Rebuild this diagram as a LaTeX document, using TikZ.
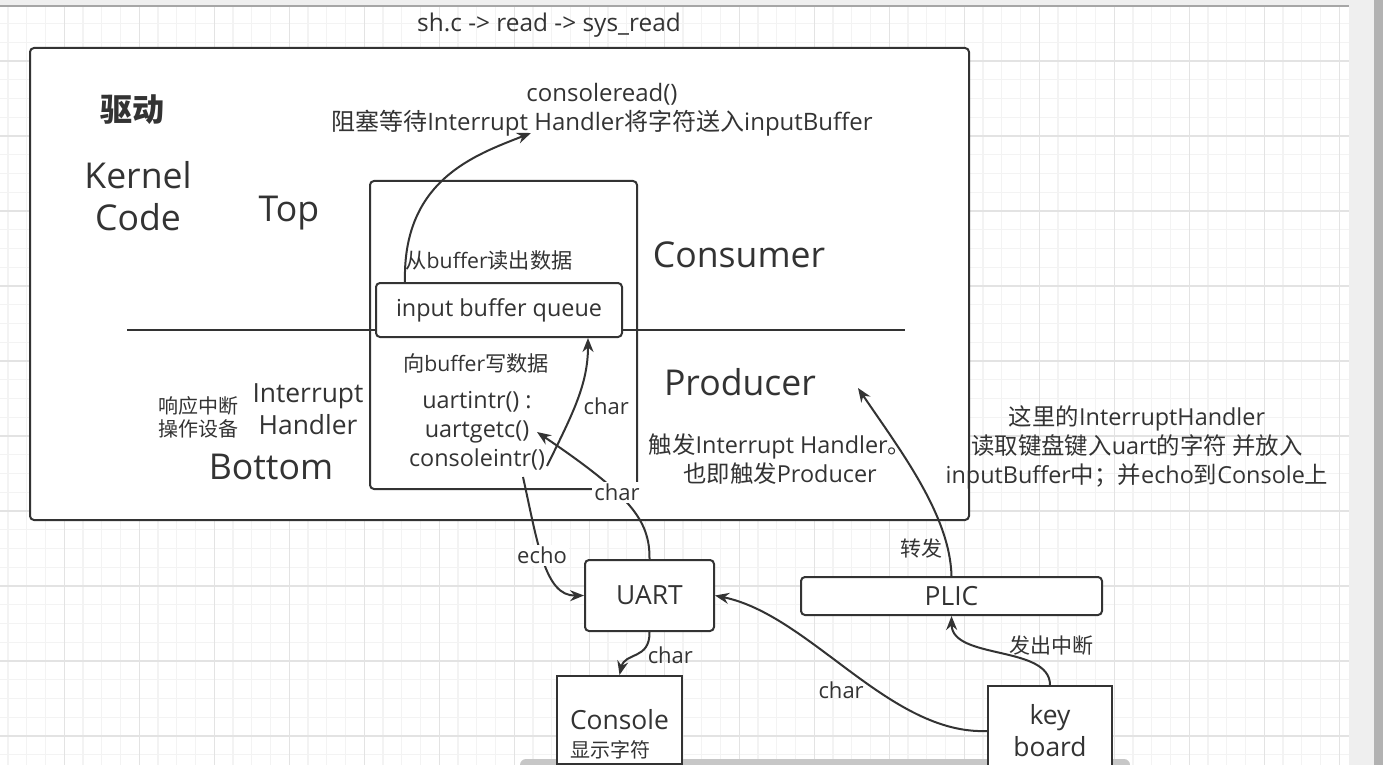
\documentclass[tikz,border=0pt]{standalone}
\usepackage{fontspec}
\setmainfont{Open Sans}
\newfontfamily\cjk{Noto Sans CJK SC}
\usetikzlibrary{arrows.meta,positioning,calc}
\definecolor{ink}{HTML}{333333}
\definecolor{gridminor}{HTML}{F3F3F3}
\definecolor{gridmajor}{HTML}{E3E3E3}
\definecolor{chrome}{HTML}{EFEFEF}

\begin{document}
\begin{tikzpicture}[x=0.5pt,y=-0.5pt,
  box/.style={draw=ink,line width=1pt,rounded corners=2pt,fill=white,inner sep=0pt},
  sqbox/.style={draw=ink,line width=1pt,fill=white,inner sep=0pt},
  txt/.style={text=ink,align=center,inner sep=0pt},
  huge/.style={txt,font=\fontsize{17.8}{21}\selectfont},
  mid/.style={txt,font=\fontsize{13.2}{16}\selectfont},
  norm/.style={txt,font=\fontsize{11.7}{14.5}\selectfont},
  small/.style={txt,font=\fontsize{10.6}{11.5}\selectfont},
  cjksmall/.style={txt,font=\cjk\fontsize{10}{11.5}\selectfont},
  lbl/.style={txt,fill=white,inner sep=1pt,font=\fontsize{11}{12}\selectfont},
  cjklbl/.style={txt,inner sep=1pt,font=\cjk\fontsize{10.5}{12}\selectfont},
  arr/.style={draw=ink,line width=1pt,-{Stealth[length=7pt,width=5.5pt]}},
]
  \useasboundingbox (0,0) rectangle (1383,765);
  \clip (0,0) rectangle (1383,765);
  % Canvas
  \fill[white] (0,0) rectangle (1383,765);
  \foreach \k in {-3,...,68} \draw[gridminor,line width=0.6pt] ({64.3+18.75*\k},6) -- ({64.3+18.75*\k},765);
  \foreach \k in {-2,...,37} \draw[gridminor,line width=0.6pt] (0,{61+18.75*\k}) -- (1349,{61+18.75*\k});
  \foreach \k in {0,...,17} \draw[gridmajor,line width=0.6pt] ({64.3+75*\k},6) -- ({64.3+75*\k},765);
  \foreach \k in {0,...,9} \draw[gridmajor,line width=0.6pt] (0,{61+75*\k}) -- (1349,{61+75*\k});
  \fill[chrome] (0,0) rectangle (1383,6);
  \draw[black!35,line width=0.6pt] (0,6) -- (1349,6);
  \fill[chrome] (1349,6) rectangle (1383,765);
  \fill[black!30] (1374,0) rectangle (1383,765);
  \fill[black!22,rounded corners=3pt] (520,759) rectangle (1130,772);

  % Kernel
  \node[box,minimum width=469.5pt,minimum height=236pt] (kernel) at (499.5,284) {};
  \node[box,minimum width=133.5pt,minimum height=154pt] (driver) at (503.5,335) {};
  \coordinate (divl) at (127,330);
  \coordinate (divr) at (905,330);
  \draw[ink,line width=1pt] (divl) -- (divr);
  \node[box,norm,minimum width=123pt,minimum height=27pt] (queue) at (499,310) {input buffer queue};

  % Texts
  \node[norm,font=\fontsize{12.2}{14.5}\selectfont] (syscall) at (549,25) {sh.c -> read -> sys\_read};
  \node[norm,font=\fontsize{12}{14.5}\selectfont] (cread) at (602,110) {consoleread()\\{\cjk 阻塞等待}Interrupt Handler{\cjk 将字符送入}inputBuffer};
  \node[txt,font=\cjk\bfseries\fontsize{16}{20}\selectfont] (qudong) at (132,110) {驱动};
  \node[huge] (kcode) at (138,196) {Kernel\\Code};
  \node[huge] (top) at (289,213) {Top};
  \node[huge] (consumer) at (739,255) {Consumer};
  \node[huge] (producer) at (740,382) {Producer};
  \node[huge] (bottom) at (271,467) {Bottom};
  \node[mid] (ihandler) at (308,409) {Interrupt\\Handler};
  \node[cjksmall] (respond) at (198,417) {响应中断\\操作设备};
  \node[small] (readbuf) at (489,260) {{\cjk 从}buffer{\cjk 读出数据}};
  \node[small] (writebuf) at (476,363) {{\cjk 向}buffer{\cjk 写数据}};
  \node[norm] (intr) at (477,431) {uartintr() :\\uartgetc()\\consoleintr()};
  \node[norm] (trigger) at (780,459) {{\cjk 触发}Interrupt Handler{\cjk 。}\\{\cjk 也即触发}Producer};
  \node[norm] (note) at (1137,447) {{\cjk 这里的}InterruptHandler\\{\cjk 读取键盘键入}uart{\cjk 的字符 并放入}\\inputBuffer{\cjk 中；并}echo{\cjk 到}Console{\cjk 上}};

  % Devices
  \node[box,mid,minimum width=64.5pt,minimum height=35.5pt] (uart) at (649.5,595.5) {UART};
  \node[box,mid,minimum width=150.5pt,minimum height=19pt] (plic) at (951.5,596) {PLIC};
  \node[sqbox,mid,minimum width=62.5pt,minimum height=44pt] (console) at (619.5,720) {Console};
  \node[cjksmall] (show) at (610,750) {显示字符};
  \node[sqbox,mid,minimum width=62pt,minimum height=45pt] (kbd) at (1050,731) {key\\board};

  % Arrows
  \coordinate (qstart) at (405,283);
  \coordinate (readtip) at (531,133);
  \coordinate (ciout) at (547,466);
  \coordinate (qin) at (588,338);
  \coordinate (getc) at (537,432);
  \coordinate (echostart) at (523,477);
  \coordinate (prodtip) at (858,388);
  \draw[arr] (qstart) .. controls (402,180) and (475,155) .. (readtip);
  \draw[arr] (ciout) .. controls (572,415) and (588,385) .. (qin) node[lbl,fill=none,pos=0.45,right=3pt] (c1) {char};
  \draw[arr] (uart.north) .. controls (650,520) and (630,495) .. (getc) node[lbl,pos=0.6] (c2) {char};
  \draw[arr] (echostart) .. controls (538,545) and (545,596) .. (uart.west) node[lbl,pos=0.45] (e1) {echo};
  \draw[arr] (uart.south) .. controls (650,660) and (625,652) .. (console.north) node[lbl,fill=none,pos=0.5,right=4pt] (c3) {char};
  \draw[arr] (kbd.west) .. controls (890,735) and (810,615) .. (uart.east) node[lbl,fill=none,pos=0.4,left=5pt] (c4) {char};
  \draw[arr] (kbd.north) .. controls (1050,645) and (952,660) .. (plic.south) node[cjklbl,pos=0.5,right=3pt,yshift=3pt] (irq) {发出中断};
  \draw[arr] (plic.north) .. controls (950,515) and (900,450) .. (prodtip) node[cjklbl,pos=0.15,left=1pt] (fwd) {转发};
\end{tikzpicture}
\end{document}
